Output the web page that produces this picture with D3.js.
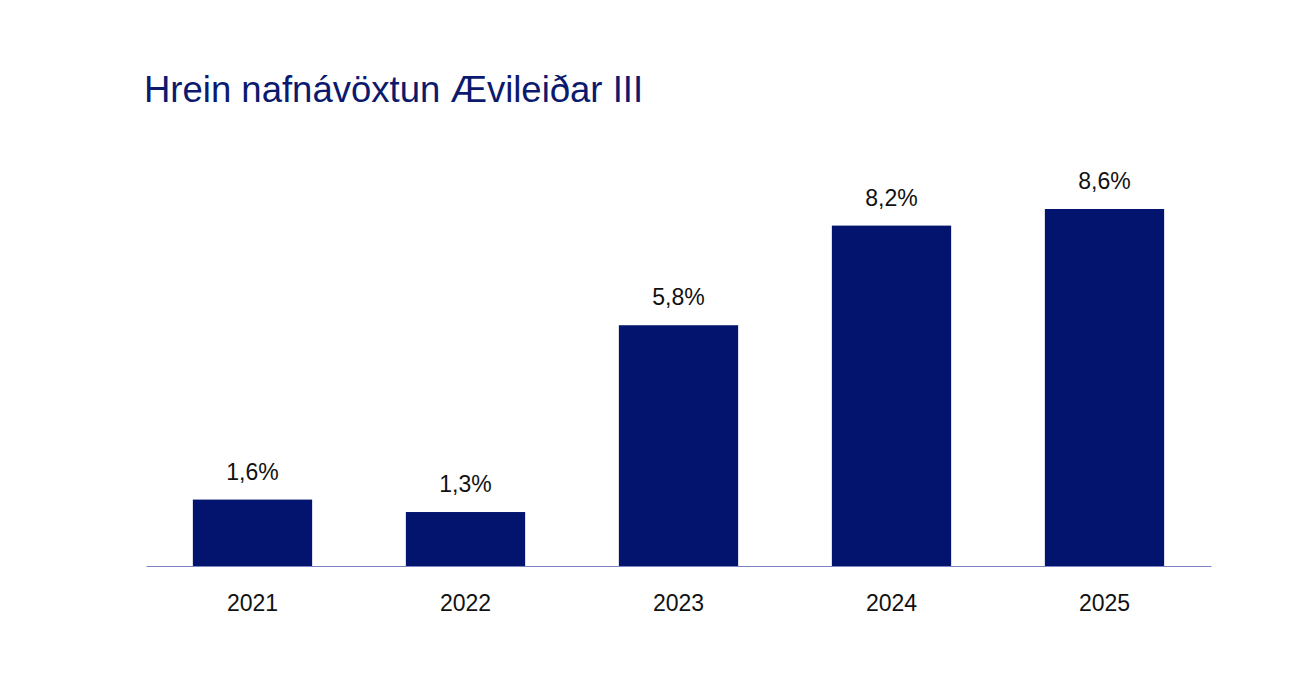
<!DOCTYPE html>
<html>
<head>
<meta charset="utf-8">
<script src="https://cdn.jsdelivr.net/npm/d3@7"></script>
<style>
  body { margin: 0; background: #fff; }
  text { font-family: "Liberation Sans", Arial, sans-serif; }
</style>
</head>
<body>
<div id="chart"></div>
<script>
const years = ["2021", "2022", "2023", "2024", "2025"];
const values = [1.6, 1.3, 5.8, 8.2, 8.6];
const chartTitle = "Hrein nafnávöxtun Ævileiðar III";

const width = 1310;
const height = 674;
const margin = {left: 146, right: 99, top: 209, bottom: 108};

const svg = d3.select('#chart').append('svg')
    .attr('width', width)
    .attr('height', height);

const x = d3.scaleBand()
    .domain(years)
    .range([margin.left, width - margin.right])
    .paddingInner(0.44)
    .paddingOuter(0.22);

const y = d3.scaleLinear()
    .domain([0, 8.6])
    .range([height - margin.bottom, margin.top]);

const fmt = v => d3.format(".1f")(v).replace(".", ",") + "%";

// title
svg.append("text")
    .attr("x", 144)
    .attr("y", 102)
    .attr("fill", "#0b1a6e")
    .attr("font-size", 36.5)
    .text(chartTitle);

// bars
svg.append("g")
  .selectAll("rect")
  .data(values)
  .enter().append("rect")
    .attr("x", (d, i) => x(years[i]))
    .attr("y", d => y(d))
    .attr("width", x.bandwidth())
    .attr("height", d => y(0) - y(d))
    .attr("fill", "#02146d");

// value labels
svg.append("g")
  .selectAll("text")
  .data(values)
  .enter().append("text")
    .attr("x", (d, i) => x(years[i]) + x.bandwidth() / 2)
    .attr("y", d => y(d) - 20)
    .attr("text-anchor", "middle")
    .attr("font-size", 23)
    .attr("fill", "#111")
    .text(fmt);

// x axis
const axis = svg.append("g")
    .attr("transform", `translate(0,${y(0)})`)
    .call(d3.axisBottom(x).tickSize(0).tickPadding(0));
axis.select(".domain").attr("stroke", "#7d84c4").attr("stroke-width", 1.2);
axis.selectAll(".tick text")
    .attr("y", 45)
    .attr("dy", 0)
    .attr("font-size", 23)
    .attr("fill", "#111")
    .style("font-family", '"Liberation Sans", Arial, sans-serif');
</script>
</body>
</html>
